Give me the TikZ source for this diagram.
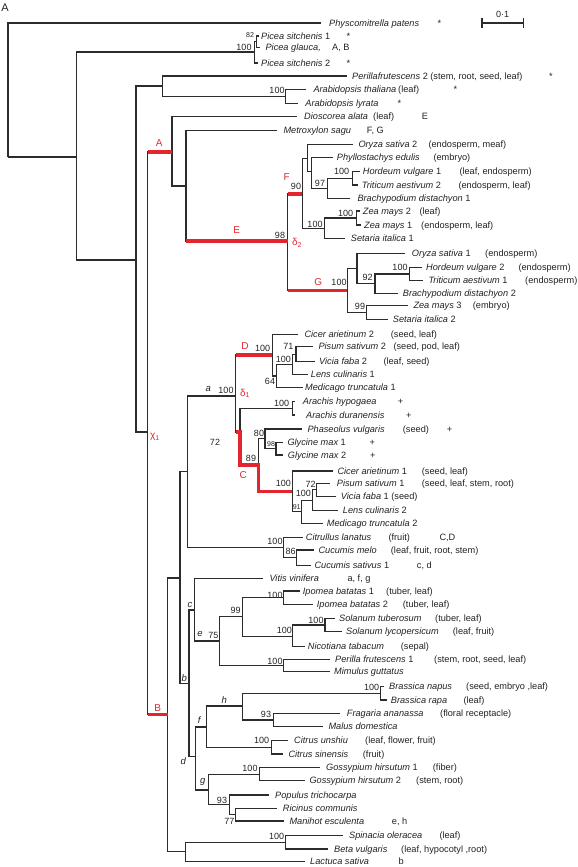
\documentclass[tikz,border=0pt]{standalone}
\usepackage{fontspec}
\setmainfont{Liberation Sans}
\usetikzlibrary{calc}
\definecolor{lc}{HTML}{2C2C2C}
\definecolor{rd}{HTML}{E3262D}
\definecolor{tx}{HTML}{222222}
\tikzset{
  br/.style={draw=lc, line width=1.3pt},
  rb/.style={draw=rd, line width=3.6pt, line join=miter},
  lbl/.style={anchor=base west, inner sep=0pt, text=tx, font=\fontsize{9.2}{10}\selectfont},
  bs/.style={inner sep=0pt, text=tx, font=\fontsize{9}{10}\selectfont},
  bss/.style={inner sep=0pt, text=tx, font=\fontsize{7}{8}\selectfont},
  rl/.style={inner sep=0pt, text=rd, font=\fontsize{10}{11}\selectfont},
  nl/.style={inner sep=0pt, text=tx, font=\fontsize{9.5}{10}\selectfont\itshape},
}
\newcommand\Nd[3]{\coordinate (#1) at (#2,#3);}
\newcommand\Tip[5]{\coordinate (#1) at (#2,#3); \node[lbl] (#1l) at ({#4},{#3+3.2}) {#5};}
\newcommand\Ann[4]{\node[lbl] (#1) at ({#2},{#3+3.2}) {#4};}
\newcommand\Bs[4]{\node[bs] (#1) at (#2,#3) {#4};}
\newcommand\It[2]{{\itshape #1}\ifx&#2&\else\ #2\fi}
\begin{document}
\begin{tikzpicture}[x=1pt,y=-1pt]
\useasboundingbox (0,0) rectangle (578,867);
\node[inner sep=0pt, text=tx, font=\fontsize{11}{12}\selectfont] (figA) at (5,8) {A};
% scale bar
\coordinate (sb1) at (482,23); \coordinate (sb2) at (523.4,23);
\draw[br] (sb1) -- (sb2);
\draw[br] ($(sb1)+(0,-5)$) -- ($(sb1)+(0,5)$);
\draw[br] ($(sb2)+(0,-5)$) -- ($(sb2)+(0,5)$);
\node[bs] (sbl) at (502.5,14.5) {0·1};
% ---------------- nodes and tips
\Nd{R}{8}{157}
\Tip{phys}{320.7}{23}{329}{\It{Physcomitrella patens}{}}
\Ann{physs}{437.5}{23}{*}
\Nd{n77}{76.5}{157}
\Nd{pic}{254.3}{52}
\Nd{pici}{256.3}{41.7}
\Tip{ps1}{259}{36}{261}{\It{Picea sitchenis}{1}}
\Ann{ps1s}{346.5}{36}{*}
\Tip{pg}{260}{47.5}{265.4}{\It{Picea glauca,}{}}
\Ann{pga}{332}{47.5}{A, B}
\Tip{ps2}{258}{63}{261}{\It{Picea sitchenis}{2}}
\Ann{ps2s}{346.5}{63}{*}
\Nd{n136}{136}{260}
\Nd{npa}{162.2}{86}
\Tip{per2}{346.5}{76}{352}{\It{Perillafrutescens}{2 (stem, root, seed, leaf)}}
\Ann{per2s}{549}{76}{*}
\Nd{nara}{285.7}{96.3}
\Tip{ath}{306}{89.3}{313.3}{\It{Arabidopsis thaliana}{}}
\Ann{atha}{398}{89.3}{(leaf)}
\Ann{aths}{453.4}{89.3}{*}
\Tip{aly}{297.8}{103.3}{305.2}{\It{Arabidopsis lyrata}{}}
\Ann{alys}{397.3}{103.3}{*}
\Nd{nchi}{147.7}{432}
\Nd{nA}{172}{152}
\Tip{dio}{296.7}{116.7}{304}{\It{Dioscorea alata}{}}
\Ann{dioa}{373}{116.7}{(leaf)}
\Ann{diob}{421.7}{116.7}{E}
\Nd{n186}{186}{186}
\Tip{met}{277.3}{130.7}{283.3}{\It{Metroxylon sagu}{}}
\Ann{meta}{366.7}{130.7}{F, G}
\Nd{nE}{287.7}{241}
\Nd{nF}{302.3}{194}
\Nd{n307}{307.7}{158.3}
\Tip{ory2}{353.3}{144.3}{358.3}{\It{Oryza sativa}{2}}
\Ann{ory2a}{428.3}{144.3}{(endosperm, meaf)}
\Nd{n311}{311.7}{171.7}
\Tip{phy}{332.7}{157.7}{336.7}{\It{Phyllostachys edulis}{}}
\Ann{phya}{433.3}{157.7}{(embryo)}
\Nd{n97}{327.7}{188.3}
\Nd{nHT}{352.3}{178.3}
\Tip{hor1}{360}{171.7}{362.7}{\It{Hordeum vulgare}{1}}
\Ann{hor1a}{459.3}{171.7}{(leaf, endosperm)}
\Tip{tri2}{358}{185}{361.7}{\It{Triticum aestivum}{2}}
\Ann{tri2a}{458.3}{185}{(endosperm, leaf)}
\Tip{bra1}{350}{198.3}{357.3}{\It{Brachypodium distachyon}{1}}
\Nd{nZS}{324.3}{228.3}
\Nd{nZ}{356.7}{218}
\Tip{zm2}{360}{211}{362.7}{\It{Zea mays}{2}}
\Ann{zm2a}{419.3}{211}{(leaf)}
\Tip{zm1}{361}{225}{364}{\It{Zea mays}{1}}
\Ann{zm1a}{421}{225}{(endosperm, leaf)}
\Tip{set1}{345}{238.3}{350.7}{\It{Setaria italica}{1}}
\Nd{nG}{347.3}{290.5}
\Nd{nGu}{357}{268.5}
\Tip{ory1}{405}{253.3}{411.7}{\It{Oryza sativa}{1}}
\Ann{ory1a}{485}{253.3}{(endosperm)}
\Nd{n92}{375}{283.7}
\Nd{nHT2}{409.3}{274}
\Tip{hor2}{421.7}{267.3}{426}{\It{Hordeum vulgare}{2}}
\Ann{hor2a}{518.3}{267.3}{(endosperm)}
\Tip{tri1}{423.3}{280.7}{428.3}{\It{Triticum aestivum}{1}}
\Ann{tri1a}{525}{280.7}{(endosperm)}
\Tip{bra2}{398.3}{293.3}{402.7}{\It{Brachypodium distachyon}{2}}
\Nd{nZS2}{366.7}{312.5}
\Tip{zm3}{408.3}{305.7}{413.3}{\It{Zea mays}{3}}
\Ann{zm3a}{472.7}{305.7}{(embryo)}
\Tip{set2}{388.3}{319.3}{392.7}{\It{Setaria italica}{2}}
\Nd{nB}{167.7}{714.5}
\Nd{n72}{180}{578}
\Nd{na}{187.7}{471.7}
\Nd{nd1}{235.7}{396}
\Nd{nD}{272.3}{355}
\Tip{cic2}{298.3}{334.3}{304.3}{\It{Cicer arietinum}{2}}
\Ann{cic2a}{390.7}{334.3}{(seed, leaf)}
\Nd{n64}{276.7}{376}
\Nd{n100p}{292.7}{364.5}
\Nd{n71}{296}{354.2}
\Tip{pis2}{312.7}{346.7}{318.3}{\It{Pisum sativum}{2}}
\Ann{pis2a}{393.3}{346.7}{(seed, pod, leaf)}
\Tip{vic2}{315}{361.7}{319}{\It{Vicia faba}{2}}
\Ann{vic2a}{383.3}{361.7}{(leaf, seed)}
\Tip{len1}{308.3}{374.3}{310.7}{\It{Lens culinaris}{1}}
\Tip{med1}{303.3}{387.3}{305}{\It{Medicago truncatula}{1}}
\Nd{nAr}{240}{432}
\Nd{nArach}{292.3}{408.3}
\Tip{ahy}{295}{401.7}{302.7}{\It{Arachis hypogaea}{}}
\Ann{ahya}{397.7}{401.7}{+}
\Tip{adu}{295}{415}{306}{\It{Arachis duranensis}{}}
\Ann{adua}{406}{415}{+}
\Nd{n89}{258.3}{465}
\Nd{n80}{265}{438.7}
\Tip{pha}{302.3}{429}{307.3}{\It{Phaseolus vulgaris}{}}
\Ann{phaa}{402.7}{429}{(seed)}
\Ann{phab}{446.7}{429}{+}
\Nd{n98}{276}{448.7}
\Tip{gm1}{283.3}{442.3}{287.3}{\It{Glycine max}{1}}
\Ann{gm1a}{369.3}{442.3}{+}
\Tip{gm2}{283.3}{455}{287.7}{\It{Glycine max}{2}}
\Ann{gm2a}{370}{455}{+}
\Nd{nC}{292.3}{491.4}
\Tip{cic1}{333.3}{471}{337.3}{\It{Cicer arietinum}{1}}
\Ann{cic1a}{421.7}{471}{(seed, leaf)}
\Nd{n91}{301.7}{511.7}
\Nd{n100c}{312.3}{500.2}
\Nd{n72c}{316.7}{489.7}
\Tip{pis1}{330}{483.3}{336.7}{\It{Pisum sativum}{1}}
\Ann{pis1a}{421.7}{483.3}{(seed, leaf, stem, root)}
\Tip{vic1}{336}{496.7}{340.7}{\It{Vicia faba}{1 (seed)}}
\Tip{len2}{338.3}{510.7}{342.7}{\It{Lens culinaris}{2}}
\Tip{med2}{323.3}{523.3}{326.7}{\It{Medicago truncatula}{2}}
\Nd{nCuc}{283.3}{547.5}
\Tip{cit}{302.7}{537.7}{305.7}{\It{Citrullus lanatus}{}}
\Ann{cita}{388.3}{537.7}{(fruit)}
\Ann{citb}{439.3}{537.7}{C,D}
\Nd{n86}{296.7}{557.8}
\Tip{cme}{314.3}{550}{318.3}{\It{Cucumis melo}{}}
\Ann{cmea}{390.7}{550}{(leaf, fruit, root, stem)}
\Tip{csa}{311}{565.7}{314.3}{\It{Cucumis sativus}{1}}
\Ann{csaa}{416.7}{565.7}{c, d}
\Nd{nb}{189}{683.3}
\Nd{nc}{194.3}{610}
\Tip{vit}{263.3}{578.3}{269.3}{\It{Vitis vinifera}{}}
\Ann{vita}{347.3}{578.3}{a, f, g}
\Nd{ne}{219.3}{641}
\Nd{n99}{242.3}{616.5}
\Nd{nIpo}{283.3}{597.7}
\Tip{ip1}{300}{591}{302.7}{\It{Ipomea batatas}{1}}
\Ann{ip1a}{386}{591}{(tuber, leaf)}
\Tip{ip2}{313.3}{604.3}{316.7}{\It{Ipomea batatas}{2}}
\Ann{ip2a}{402.7}{604.3}{(tuber, leaf)}
\Nd{nSol}{292.7}{636.7}
\Nd{nSt}{325}{625}
\Tip{stu}{335}{618.3}{339}{\It{Solanum tuberosum}{}}
\Ann{stua}{435}{618.3}{(tuber, leaf)}
\Tip{sly}{341.7}{631.7}{346}{\It{Solanum lycopersicum}{}}
\Ann{slya}{452.7}{631.7}{(leaf, fruit)}
\Tip{nic}{305}{646.7}{307.7}{\It{Nicotiana tabacum}{}}
\Ann{nica}{400.7}{646.7}{(sepal)}
\Nd{nPer}{283.3}{665.5}
\Tip{per1}{330}{659.3}{335}{\It{Perilla frutescens}{1}}
\Ann{per1a}{434}{659.3}{(stem, root, seed, leaf)}
\Tip{mim}{330}{671.7}{334}{\It{Mimulus guttatus}{}}
\Nd{nd}{195.3}{756.7}
\Nd{nf}{206.7}{727}
\Nd{nh}{242.7}{706}
\Nd{nBra}{380.7}{693.3}
\Tip{bna}{384}{686.7}{389}{\It{Brassica napus}{}}
\Ann{bnaa}{466}{686.7}{(seed, embryo ,leaf)}
\Tip{bra}{386.7}{700}{390.7}{\It{Brassica rapa}{}}
\Ann{braa}{463.3}{700}{(leaf)}
\Nd{n93}{273.3}{720}
\Tip{fra}{340}{713.3}{346.7}{\It{Fragaria ananassa}{}}
\Ann{fraa}{440}{713.3}{(floral receptacle)}
\Tip{mal}{322.7}{726.7}{328.3}{\It{Malus domestica}{}}
\Nd{nCit}{271.7}{747.3}
\Tip{cun}{288.3}{740.7}{294}{\It{Citrus unshiu}{}}
\Ann{cuna}{365}{740.7}{(leaf, flower, fruit)}
\Tip{csi}{283.3}{754}{288.3}{\It{Citrus sinensis}{}}
\Ann{csia}{362.7}{754}{(fruit)}
\Nd{ng}{208.3}{790}
\Nd{nGos}{259.3}{774.2}
\Tip{go1}{320}{767.7}{326}{\It{Gossypium hirsutum}{1}}
\Ann{go1a}{432.7}{767.7}{(fiber)}
\Tip{go2}{305}{780.7}{309.3}{\It{Gossypium hirsutum}{2}}
\Ann{go2a}{416}{780.7}{(stem, root)}
\Nd{n93b}{229.3}{804.3}
\Tip{pop}{269.3}{795}{275}{\It{Populus trichocarpa}{}}
\Nd{n77b}{235.7}{814.7}
\Tip{ric}{277.3}{808.3}{282.7}{\It{Ricinus communis}{}}
\Tip{man}{284}{821}{289.3}{\It{Manihot esculenta}{}}
\Ann{mana}{391.7}{821}{e, h}
\Nd{nLa}{185.7}{851.7}
\Nd{nSB}{285.7}{842.3}
\Tip{spi}{343.3}{835.7}{349}{\It{Spinacia oleracea}{}}
\Ann{spia}{439.3}{835.7}{(leaf)}
\Tip{bet}{328.3}{849}{334}{\It{Beta vulgaris}{}}
\Ann{beta}{401}{849}{(leaf, hypocotyl ,root)}
\Tip{lac}{305}{861.7}{310}{\It{Lactuca sativa}{}}
\Ann{laca}{398.3}{861.7}{b}
% ---------------- branches
\foreach \p/\c in {R/phys,R/n77,n77/pic,n77/n136,pic/pici,pic/ps2,pici/ps1,pici/pg,
  n136/npa,n136/nchi,npa/per2,npa/nara,nara/ath,nara/aly,nchi/nA,nchi/nB,
  nA/dio,nA/n186,n186/met,n186/nE,nE/nF,nE/nG,nF/n307,nF/nZS,n307/ory2,n307/n311,
  n311/phy,n311/n97,n97/nHT,n97/bra1,nHT/hor1,nHT/tri2,nZS/nZ,nZS/set1,nZ/zm2,nZ/zm1,
  nG/nGu,nG/nZS2,nGu/ory1,nGu/n92,n92/nHT2,n92/bra2,nHT2/hor2,nHT2/tri1,nZS2/zm3,nZS2/set2,
  nB/n72,nB/nLa,n72/na,n72/nb,na/nd1,na/nCuc,nd1/nD,nd1/nAr,nD/cic2,nD/n64,
  n64/n100p,n64/med1,n100p/n71,n100p/len1,n71/pis2,n71/vic2,nAr/nArach,nAr/n89,
  nArach/ahy,nArach/adu,n89/n80,n89/nC,n80/pha,n80/n98,n98/gm1,n98/gm2,
  nC/cic1,nC/n91,n91/n100c,n91/med2,n100c/n72c,n100c/len2,n72c/pis1,n72c/vic1,
  nCuc/cit,nCuc/n86,n86/cme,n86/csa,nb/nc,nb/nd,nc/vit,nc/ne,ne/n99,ne/nPer,
  n99/nIpo,n99/nSol,nIpo/ip1,nIpo/ip2,nSol/nSt,nSol/nic,nSt/stu,nSt/sly,nPer/per1,nPer/mim,
  nd/nf,nd/ng,nf/nh,nf/nCit,nh/nBra,nh/n93,nBra/bna,nBra/bra,n93/fra,n93/mal,
  nCit/cun,nCit/csi,ng/nGos,ng/n93b,nGos/go1,nGos/go2,n93b/pop,n93b/n77b,n77b/ric,n77b/man,
  nLa/nSB,nLa/lac,nSB/spi,nSB/bet}
  \draw[br] (\p) |- (\c);
% ---------------- red branches
\draw[rb] (nchi |- nA) -- (nA);
\draw[rb] (nchi |- nB) -- (nB);
\draw[rb] (n186 |- nE) -- (nE);
\draw[rb] (nE |- nF) -- (nF);
\draw[rb] (nE |- nG) -- (nG);
\draw[rb] (nd1 |- nD) -- (nD);
\draw[rb] (nd1 |- nAr) -- (nAr) |- (n89) |- (nC);
% ---------------- red labels
\node[rl] (lA) at (159.3,143.3) {A};
\node[rl] (lB) at (157.7,707.7) {B};
\node[rl] (lC) at (243.3,475) {C};
\node[rl] (lD) at (245,346) {D};
\node[rl] (lE) at (236.7,230) {E};
\node[rl] (lF) at (286.7,177) {F};
\node[rl] (lG) at (318.3,282.3) {G};
\node[rl] (lchi) at (155,437) {χ\textsubscript{1}};
\node[rl] (ld1) at (245,393.3) {δ\textsubscript{1}};
\node[rl] (ld2) at (297,243) {δ\textsubscript{2}};
% ---------------- node letters
\node[nl] (la) at (208.3,389.3) {a};
\node[nl] (lb) at (184.3,677.7) {b};
\node[nl] (lc) at (190,605) {c};
\node[nl] (ld) at (183.3,761) {d};
\node[nl] (le) at (200,634) {e};
\node[nl] (lf) at (199.3,720) {f};
\node[nl] (lg) at (202.7,781.7) {g};
\node[nl] (lh) at (224.3,700) {h};
% ---------------- support values
\node[bss] (b82) at (250,35.5) {82};
\Bs{b1}{244}{47.5}{100}
\Bs{b2}{277}{90}{100}
\Bs{b3}{320}{183.3}{97}
\Bs{b4}{341.7}{171.7}{100}
\Bs{b5}{296}{186}{90}
\Bs{b6}{345.7}{213.3}{100}
\Bs{b7}{315}{224}{100}
\Bs{b8}{280}{235}{98}
\Bs{b9}{339}{282.3}{100}
\Bs{b10}{367.7}{277.3}{92}
\Bs{b11}{400}{267.3}{100}
\Bs{b12}{360}{306.7}{99}
\Bs{b13}{262.7}{348.3}{100}
\Bs{b14}{288.3}{346.7}{71}
\Bs{b15}{283.3}{359}{100}
\Bs{b16}{270}{381.7}{64}
\Bs{b17}{226}{390.7}{100}
\Bs{b18}{281.7}{403.3}{100}
\Bs{b19}{259}{433.3}{80}
\node[bss] (b20) at (271,444) {98};
\Bs{b21}{251}{458.3}{89}
\Bs{b22}{215}{442.7}{72}
\Bs{b23}{283.3}{483.3}{100}
\Bs{b24}{310.7}{484}{72}
\Bs{b25}{303.3}{493.3}{100}
\node[bss] (b26) at (296.7,506.7) {91};
\Bs{b27}{275}{541}{100}
\Bs{b28}{290.7}{551.7}{86}
\Bs{b29}{275}{595}{100}
\Bs{b30}{235.7}{610.7}{99}
\Bs{b31}{316}{620}{100}
\Bs{b32}{284.3}{630}{100}
\Bs{b33}{213.3}{635}{75}
\Bs{b34}{275}{661}{100}
\Bs{b35}{371.7}{687.3}{100}
\Bs{b36}{266}{714.3}{93}
\Bs{b37}{261.7}{740.7}{100}
\Bs{b38}{250}{768.3}{100}
\Bs{b39}{222}{800}{93}
\Bs{b40}{229.3}{821}{77}
\Bs{b41}{276.7}{836.7}{100}
\end{tikzpicture}
\end{document}
